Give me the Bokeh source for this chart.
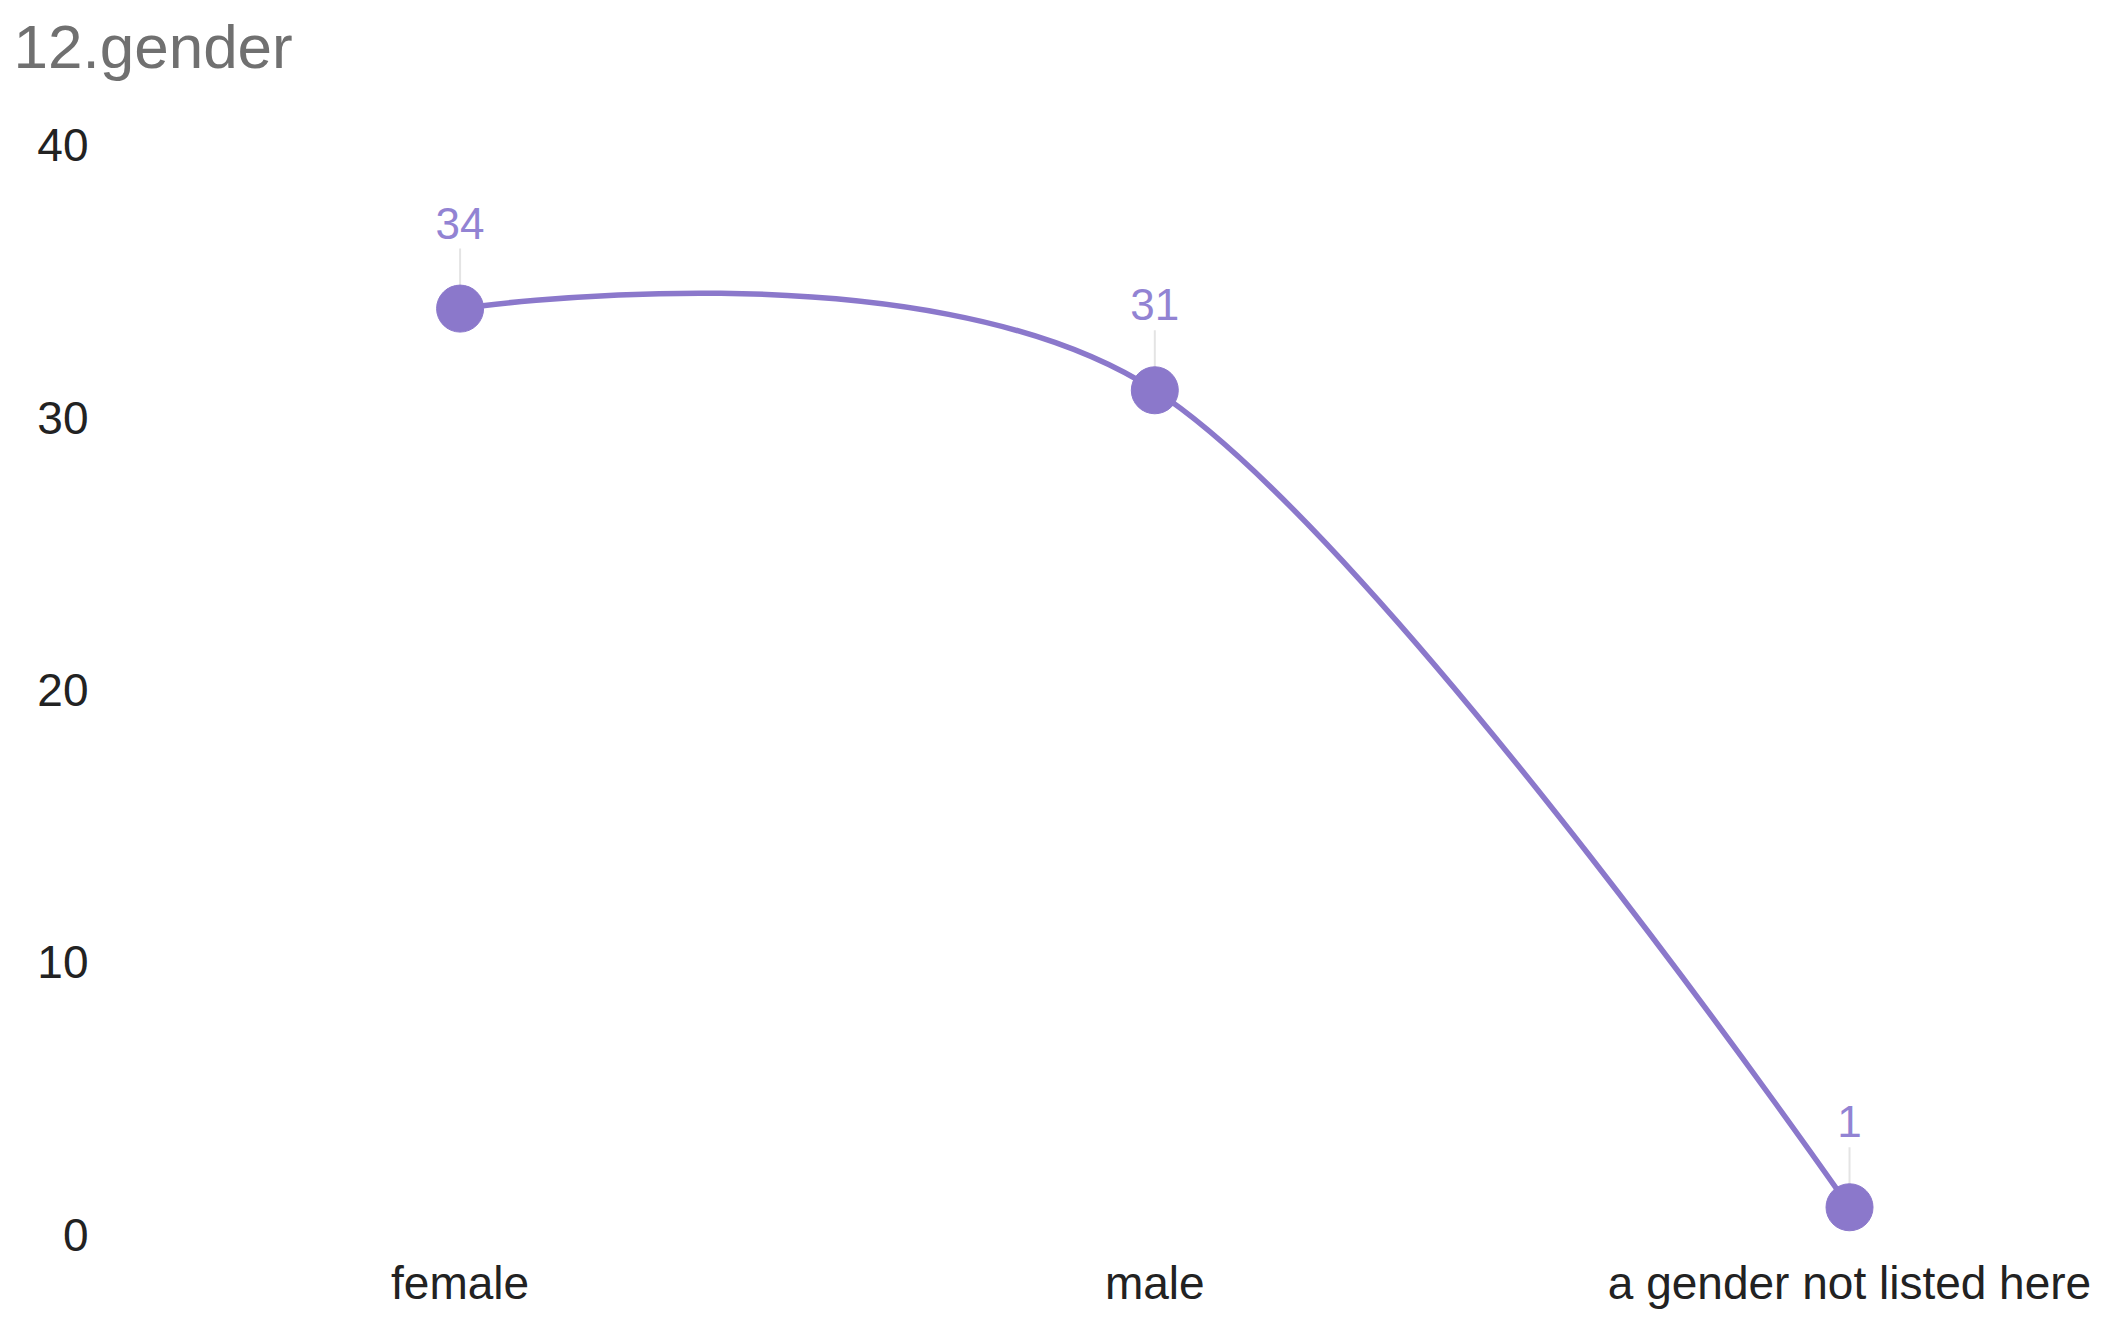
import math
from bokeh.plotting import figure
from bokeh.models import Range1d, FixedTicker, ColumnDataSource, LabelSet, Title
from bokeh.core.properties import value
from bokeh.embed import file_html
from bokeh.resources import INLINE

# ---- data ----
categories = ["female", "male", "a gender not listed here"]
counts = [34, 31, 1]
y_ticks = [0, 10, 20, 30, 40]
title_text = "12.gender"

LINE = "#8b78cb"
LABEL = "#9283d3"
FONT = "Liberation Sans"

xs = list(range(len(categories)))

p = figure(width=2098, height=1326, output_backend="svg", toolbar_location=None,
           x_range=Range1d(-0.4917, 2.344), y_range=Range1d(-0.367, 40.98),
           min_border_left=118, min_border_right=10, min_border_top=118,
           min_border_bottom=82)
p.title = None
p.outline_line_color = None
p.grid.visible = False
p.background_fill_color = "white"
p.border_fill_color = "white"

# spacer between the title and the plotting area (added first = closest to frame)
spacer = Title(text=" ", text_font=FONT, text_font_size="20px", standoff=2)
p.add_layout(spacer, "above")

# real title (added second = outermost)
title = Title(text=title_text, text_font=FONT, text_font_size="62px",
              text_font_style="normal", text_color="#707070",
              align="left", vertical_align="top", offset=-105, standoff=20)
p.add_layout(title, "above")

# axes
for ax in (p.xaxis[0], p.yaxis[0]):
    ax.axis_line_color = None
    ax.major_tick_line_color = None
    ax.minor_tick_line_color = None
    ax.major_label_text_font = FONT
    ax.major_label_text_font_size = "46px"
    ax.major_label_text_color = "#222222"
    ax.major_tick_out = 0
    ax.major_tick_in = 0

p.xaxis.ticker = FixedTicker(ticks=xs)
p.xaxis.major_label_overrides = {i: c for i, c in enumerate(categories)}
p.xaxis.major_label_standoff = 12
p.yaxis.ticker = FixedTicker(ticks=y_ticks)
p.yaxis.major_label_standoff = 30

# smooth (cardinal / Catmull-Rom) curve through the points, drawn as beziers
k = 1.0 / 6.0
n = len(xs)
x0, y0, x1, y1, cx0, cy0, cx1, cy1 = [], [], [], [], [], [], [], []
for i in range(n - 1):
    xa, ya, xb, yb = xs[i], counts[i], xs[i + 1], counts[i + 1]
    if i == 0:
        c0x, c0y = xa, ya
    else:
        c0x = xa + k * (xs[i + 1] - xs[i - 1])
        c0y = ya + k * (counts[i + 1] - counts[i - 1])
    if i + 1 == n - 1:
        c1x, c1y = xb, yb
    else:
        c1x = xb - k * (xs[i + 2] - xs[i])
        c1y = yb - k * (counts[i + 2] - counts[i])
    x0.append(xa); y0.append(ya); x1.append(xb); y1.append(yb)
    cx0.append(c0x); cy0.append(c0y); cx1.append(c1x); cy1.append(c1y)

p.bezier(x0=x0, y0=y0, x1=x1, y1=y1, cx0=cx0, cy0=cy0, cx1=cx1, cy1=cy1,
         line_color=LINE, line_width=5.5)

src = ColumnDataSource(dict(x=xs, y=counts, lab=[str(c) for c in counts]))

# leader lines
p.ray(x="x", y="y", length=60, length_units="screen", angle=math.pi / 2,
      line_color="#e4e4e4", line_width=2, source=src)

p.scatter(x="x", y="y", size=47, fill_color=LINE, line_color=LINE, source=src)

labels = LabelSet(x="x", y="y", text="lab", source=src, y_offset=70,
                  text_align="center", text_baseline="alphabetic",
                  text_font=value(FONT), text_font_size=value("44px"),
                  text_color=LABEL)
p.add_layout(labels)

open("out.html", "w").write(file_html(p, INLINE))
